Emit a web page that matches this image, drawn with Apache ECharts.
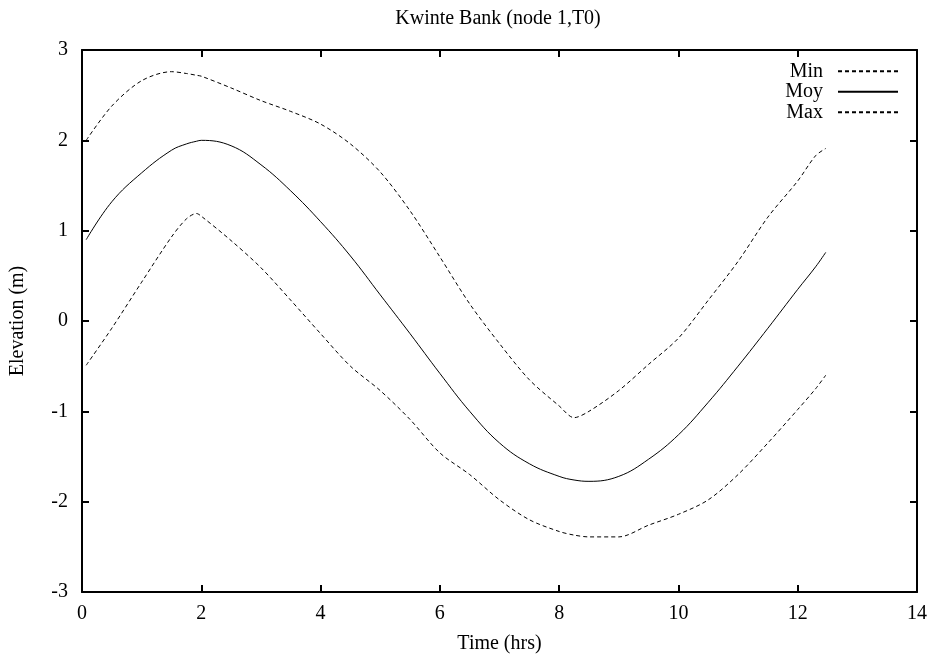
<!DOCTYPE html>
<html>
<head>
<meta charset="utf-8">
<script src="https://cdn.jsdelivr.net/npm/echarts@6/dist/echarts.min.js"></script>
<style>html,body{margin:0;padding:0;background:#fff;}#c{width:934px;height:660px;}</style>
</head>
<body>
<div id="c"></div>
<script>
const chartTitle = 'Kwinte Bank (node 1,T0)';
const xName = 'Time (hrs)';
const yName = 'Elevation (m)';
const seriesNames = ['Min', 'Moy', 'Max'];
const timeHrs = [0.07, 0.5, 1.0, 1.5, 1.75, 1.92, 2.0, 2.5, 3.0, 3.5, 4.0, 4.5, 5.0, 5.5, 6.0, 6.5, 7.0, 7.5, 8.0, 8.25, 8.5, 9.0, 9.5, 10.0, 10.5, 11.0, 11.5, 12.0, 12.3, 12.47];
const minVals = [-0.49, -0.08, 0.43, 0.93, 1.13, 1.19, 1.16, 0.89, 0.59, 0.23, -0.14, -0.50, -0.77, -1.09, -1.46, -1.70, -1.98, -2.20, -2.33, -2.37, -2.39, -2.39, -2.26, -2.14, -1.98, -1.70, -1.35, -0.98, -0.75, -0.60];
const moyVals = [0.90, 1.32, 1.64, 1.89, 1.96, 1.99, 2.00, 1.94, 1.73, 1.44, 1.10, 0.72, 0.29, -0.14, -0.58, -1.00, -1.35, -1.58, -1.72, -1.76, -1.775, -1.72, -1.53, -1.26, -0.90, -0.50, -0.08, 0.35, 0.60, 0.76];
const maxVals = [2.00, 2.38, 2.66, 2.76, 2.74, 2.72, 2.71, 2.58, 2.44, 2.32, 2.18, 1.96, 1.65, 1.22, 0.71, 0.19, -0.25, -0.65, -0.94, -1.07, -1.00, -0.77, -0.48, -0.19, 0.23, 0.66, 1.15, 1.55, 1.83, 1.91];

const font = 'Liberation Serif';
const fs = 20;
const pair = vals => timeHrs.map((t, i) => [t, vals[i]]);
const chart = echarts.init(document.getElementById('c'));
const axisBase = {
  type: 'value',
  axisLine: { show: true, onZero: false, lineStyle: { color: '#000', width: 2 } },
  axisTick: { show: true, inside: true, length: 7, lineStyle: { color: '#000', width: 2 } },
  splitLine: { show: false }
};
const mk = (name, vals, dashed, sm) => ({
  name: name, type: 'line', data: pair(vals), symbol: 'none', smooth: sm,
  lineStyle: { color: '#000', width: 1, type: dashed ? [4, 3] : 'solid' },
  itemStyle: { color: '#000' }
});
chart.setOption({
  animation: false,
  backgroundColor: '#fff',
  title: { text: chartTitle, left: 493, textAlign: 'center', top: 4, textStyle: { fontFamily: font, fontSize: fs, fontWeight: 'normal', color: '#000' } },
  grid: { left: 82, right: 17, top: 50, bottom: 68 },
  legend: {
    orient: 'vertical', right: 30, top: 56, align: 'right', itemWidth: 60, itemHeight: 14, itemGap: 0,
    formatter: n => n + '  ',
    itemStyle: { color: 'rgba(0,0,0,0)', borderColor: 'rgba(0,0,0,0)', borderWidth: 0 },
    textStyle: { fontFamily: font, fontSize: fs, color: '#000', lineHeight: 20.5 },
    data: seriesNames
  },
  xAxis: [
    Object.assign({}, axisBase, { min: 0, max: 14, interval: 2, position: 'bottom',
      name: xName, nameLocation: 'middle', nameGap: 42, nameTextStyle: { fontFamily: font, fontSize: fs, color: '#000' },
      axisLabel: { fontFamily: font, fontSize: fs, color: '#000', margin: 12 } }),
    Object.assign({}, axisBase, { min: 0, max: 14, interval: 2, position: 'top', axisLabel: { show: false } })
  ],
  yAxis: [
    Object.assign({}, axisBase, { min: -3, max: 3, interval: 1, position: 'left',
      name: yName, nameLocation: 'middle', nameGap: 54, nameTextStyle: { fontFamily: font, fontSize: fs, color: '#000' },
      axisLabel: { fontFamily: font, fontSize: fs, color: '#000', margin: 14 } }),
    Object.assign({}, axisBase, { min: -3, max: 3, interval: 1, position: 'right', axisLabel: { show: false } })
  ],
  series: [mk(seriesNames[0], minVals, true, 0.3), mk(seriesNames[1], moyVals, false, 0.4), mk(seriesNames[2], maxVals, true, 0.3)]
});
</script>
</body>
</html>
